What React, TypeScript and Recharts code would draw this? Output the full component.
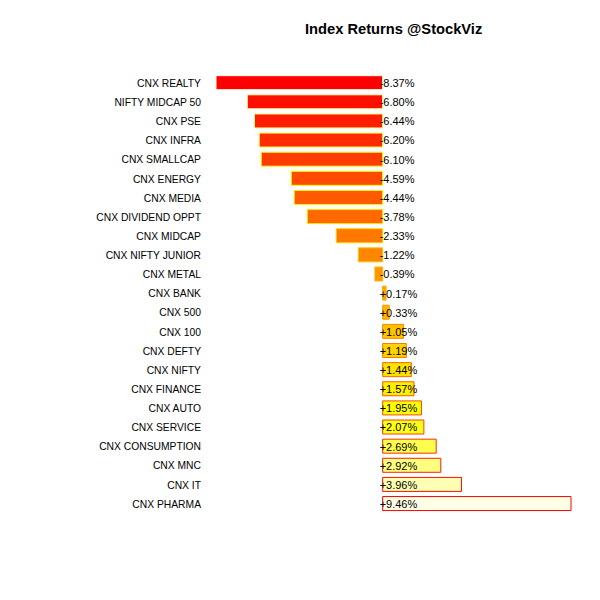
import { BarChart, Bar, XAxis, YAxis, Cell, LabelList } from 'recharts';

const categories = [
  'CNX REALTY', 'NIFTY MIDCAP 50', 'CNX PSE', 'CNX INFRA', 'CNX SMALLCAP', 'CNX ENERGY',
  'CNX MEDIA', 'CNX DIVIDEND OPPT', 'CNX MIDCAP', 'CNX NIFTY JUNIOR', 'CNX METAL', 'CNX BANK',
  'CNX 500', 'CNX 100', 'CNX DEFTY', 'CNX NIFTY', 'CNX FINANCE', 'CNX AUTO', 'CNX SERVICE',
  'CNX CONSUMPTION', 'CNX MNC', 'CNX IT', 'CNX PHARMA',
];

const returns = [
  -8.37, -6.8, -6.44, -6.2, -6.1, -4.59, -4.44, -3.78, -2.33, -1.22, -0.39, 0.17,
  0.33, 1.05, 1.19, 1.44, 1.57, 1.95, 2.07, 2.69, 2.92, 3.96, 9.46,
];

// heat colours, red -> yellow -> pale yellow
const heat = [
  '#FF0000', '#FF0F00', '#FF1E00', '#FF2D00', '#FF3C00', '#FF4B00', '#FF5A00', '#FF6900',
  '#FF7800', '#FF8700', '#FF9600', '#FFA500', '#FFB400', '#FFC300', '#FFD200', '#FFE100',
  '#FFF000', '#FFFF00', '#FFFF1A', '#FFFF4D', '#FFFF80', '#FFFFB3', '#FFFFE6',
];

const data = categories.map((name, i) => ({ name, value: returns[i] }));

const fmt = (v: number) => (v >= 0 ? '+' : '') + v.toFixed(2) + '%';

const FONT = 'Liberation Sans, Arial, sans-serif';

const ValueLabel = (props: any) => {
  const { x, y, width, height, value } = props;
  const zeroX = value < 0 ? Math.max(x, x + width) : Math.min(x, x + width);
  return (
    <text
      x={zeroX - 3}
      y={y + height / 2}
      dy="0.4em"
      fontSize={11}
      fontFamily={FONT}
      fill="#000"
      textAnchor="start"
    >
      {fmt(value)}
    </text>
  );
};

const CategoryTick = (props: any) => {
  const { x, y, payload } = props;
  return (
    <text x={x} y={y} dy="0.42em" fontSize={10.3} fontFamily={FONT} fill="#000" textAnchor="end">
      {payload.value}
    </text>
  );
};

export default function App() {
  return (
    <div style={{ position: 'absolute', left: 0, top: 0, width: 600, height: 600, background: '#fff' }}>
      <div
        style={{
          position: 'absolute',
          left: 305,
          top: 21,
          fontFamily: FONT,
          fontWeight: 'bold',
          fontSize: 14.7,
          whiteSpace: 'nowrap',
        }}
      >
        Index Returns @StockViz
      </div>
      <BarChart
        width={600}
        height={600}
        data={data}
        layout="vertical"
        margin={{ top: 73, right: 29, bottom: 87, left: 0 }}
        barCategoryGap="14%"
      >
        <XAxis type="number" domain={['dataMin', 'dataMax']} hide />
        <YAxis
          type="category"
          dataKey="name"
          width={216}
          tickLine={false}
          axisLine={false}
          tickMargin={9}
          interval={0}
          tick={<CategoryTick />}
        />
        <Bar dataKey="value" isAnimationActive={false}>
          {data.map((d, i) => (
            <Cell key={d.name} fill={heat[i]} stroke={heat[heat.length - 1 - i]} strokeWidth={1} />
          ))}
          <LabelList dataKey="value" content={<ValueLabel />} />
        </Bar>
      </BarChart>
    </div>
  );
}
